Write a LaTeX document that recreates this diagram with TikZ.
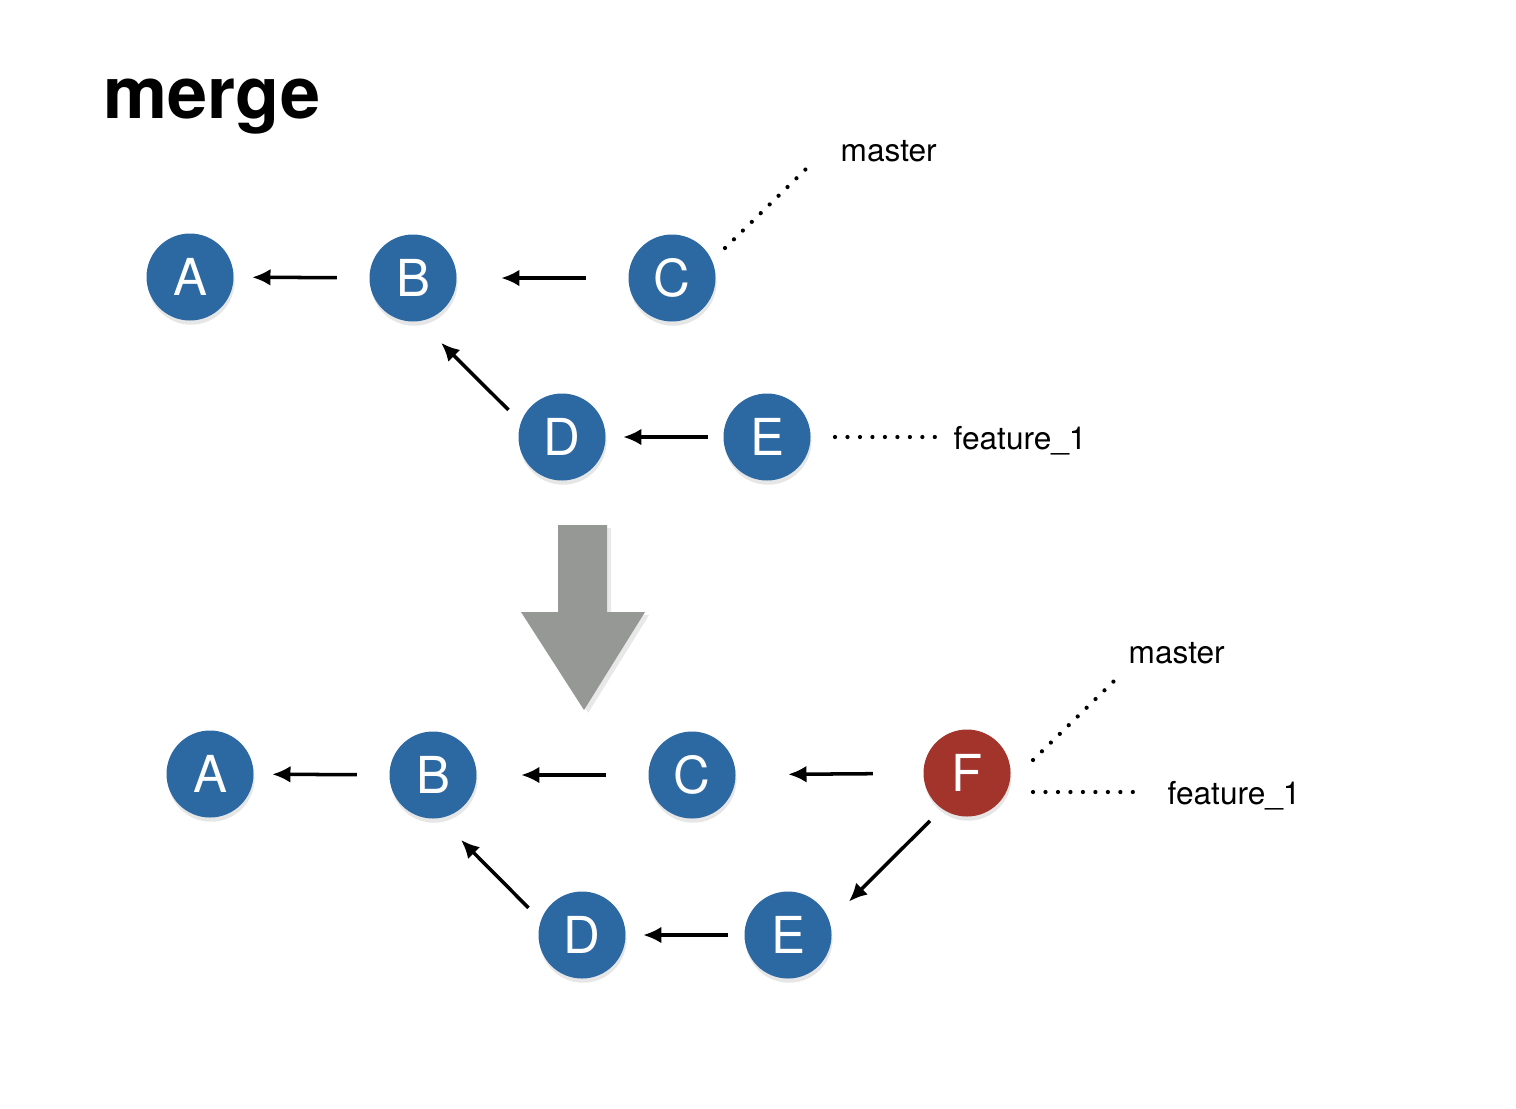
\documentclass[tikz,border=0pt]{standalone}
\usepackage{fontspec}
\setmainfont{TeX Gyre Heros}
\usetikzlibrary{arrows.meta,shadows}
\definecolor{blu}{RGB}{44,104,162}
\definecolor{rosso}{RGB}{162,52,44}
\definecolor{grigio}{RGB}{150,152,150}

\begin{document}
\begin{tikzpicture}[>={Latex[length=5.2pt,width=4.8pt]},
		commit/.style={circle, fill=blu, text=white, minimum size=0.87cm, inner sep=0pt,
			font=\fontsize{14.5}{14.5}\selectfont,
			drop shadow={shadow xshift=0.3pt, shadow yshift=-1.2pt, opacity=0.2}},
		merged/.style={commit, fill=rosso},
		ramo/.style={inner sep=0pt, font=\fontsize{9}{9}\selectfont},
		freccia/.style={->, line width=1pt},
		punti/.style={line width=1.2pt, line cap=round, dash pattern=on 0pt off 3.55pt}]
		\useasboundingbox (0,0) rectangle (15.16,-11.08);
		%Titolo
		\node [anchor=base west, inner sep=0pt, font=\fontsize{20.5}{20.5}\selectfont\bfseries] (titolo) at (1.03,-1.18) {merge};
		%Prima
		\node [commit] (A1) at (1.90,-2.77) {A};
		\node [commit] (B1) at (4.13,-2.78) {B};
		\node [commit] (C1) at (6.72,-2.78) {C};
		\node [commit] (D1) at (5.62,-4.37) {D};
		\node [commit] (E1) at (7.67,-4.37) {E};
		\draw [freccia, shorten <=0.32cm, shorten >=0.18cm] (B1) -- (A1);
		\draw [freccia, shorten <=0.42cm, shorten >=0.44cm] (C1) -- (B1);
		\draw [freccia, shorten <=0.17cm, shorten >=0.30cm] (D1.160) -- (B1.-81);
		\draw [freccia, shorten <=0.15cm, shorten >=0.17cm] (E1) -- (D1);
		\node [ramo, anchor=base west] (master1) at (8.40,-1.61) {master};
		\node [ramo, anchor=base west] (feat1) at (9.53,-4.49) {feature\_1};
		\coordinate (m1a) at (7.25,-2.48);
		\coordinate (m1b) at (8.07,-1.68);
		\coordinate (f1a) at (8.35,-4.37);
		\coordinate (f1b) at (9.37,-4.37);
		\draw [punti] (m1a) -- (m1b);
		\draw [punti] (f1a) -- (f1b);
		%Freccia
		\fill [grigio, drop shadow={shadow xshift=1.2pt, shadow yshift=-0.8pt, opacity=0.18}]
			(5.58,-5.25) -- (6.07,-5.25) -- (6.07,-6.12) -- (6.45,-6.12) -- (5.84,-7.10)
			-- (5.21,-6.12) -- (5.58,-6.12) -- cycle;
		%Dopo
		\node [commit] (A2) at (2.10,-7.74) {A};
		\node [commit] (B2) at (4.33,-7.75) {B};
		\node [commit] (C2) at (6.92,-7.75) {C};
		\node [merged] (F2) at (9.67,-7.73) {F};
		\node [commit] (D2) at (5.82,-9.35) {D};
		\node [commit] (E2) at (7.88,-9.35) {E};
		\draw [freccia, shorten <=0.32cm, shorten >=0.18cm] (B2) -- (A2);
		\draw [freccia, shorten <=0.42cm, shorten >=0.44cm] (C2) -- (B2);
		\draw [freccia, shorten <=0.50cm, shorten >=0.52cm] (F2) -- (C2);
		\draw [freccia, shorten <=0.165cm, shorten >=0.27cm] (F2.-125) -- (E2.19);
		\draw [freccia, shorten <=0.17cm, shorten >=0.30cm] (D2.160) -- (B2.-81);
		\draw [freccia, shorten <=0.16cm, shorten >=0.17cm] (E2) -- (D2);
		\node [ramo, anchor=base west] (master2) at (11.28,-6.63) {master};
		\node [ramo, anchor=base west] (feat2) at (11.67,-8.04) {feature\_1};
		\coordinate (m2a) at (10.33,-7.60);
		\coordinate (m2b) at (11.14,-6.81);
		\coordinate (f2a) at (10.33,-7.92);
		\coordinate (f2b) at (11.37,-7.92);
		\draw [punti] (m2a) -- (m2b);
		\draw [punti] (f2a) -- (f2b);
	\end{tikzpicture}
\end{document}
